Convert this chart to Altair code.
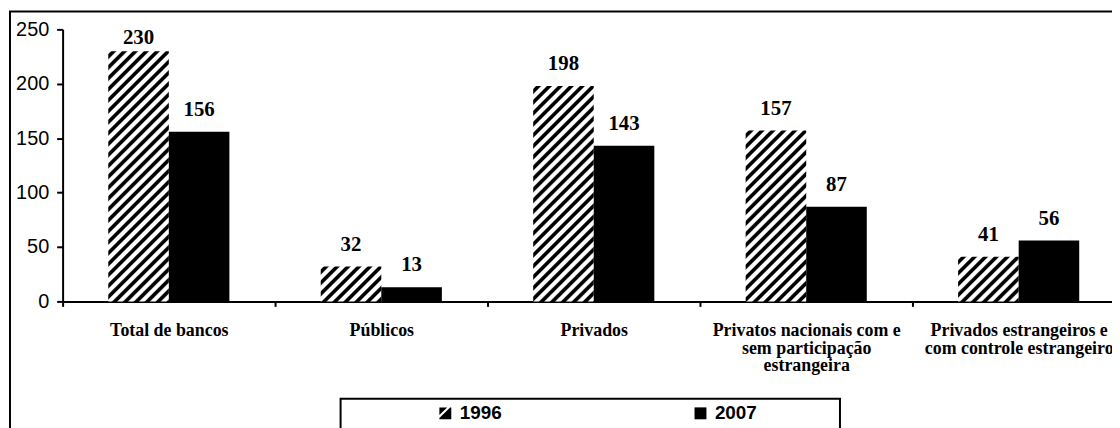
import math
import altair as alt
import pandas as pd

# ---- data ----
categories = [
    "Total de bancos",
    "Públicos",
    "Privados",
    "Privatos nacionais com e\nsem participação\nestrangeira",
    "Privados estrangeiros e\ncom controle estrangeiro",
]
years = ["1996", "2007"]
values_1996 = [230, 32, 198, 157, 41]
values_2007 = [156, 13, 143, 87, 56]
y_ticks = [0, 50, 100, 150, 200, 250]

# ---- layout ----
PLOT_H = 274
Y_MAX = 250
PX = PLOT_H / Y_MAX          # pixels per unit
STEP = 214                   # category band width
BAR_W = 61

rows = []
for c, a, b in zip(categories, values_1996, values_2007):
    rows.append({"cat": c, "year": "1996", "value": a})
    rows.append({"cat": c, "year": "2007", "value": b})
df = pd.DataFrame(rows)


def hatch(value, period=11.0):
    """Diagonal '/' stripes as a bounding-box linear gradient."""
    h = value * PX
    w = BAR_W
    L = w + h
    t = (w + h) / (w * w + h * h)
    stops = []
    n = int(math.ceil(L / period)) + 1
    pattern = [(0.0, "white"), (2.2, "white"), (3.8, "black"), (7.4, "black"), (9.0, "white")]
    last = -1.0
    for k in range(n):
        for off, col in pattern:
            s = (k * period + off) / L
            if s > 1:
                s = 1.0
            if s < last:
                s = last
            stops.append({"offset": s, "color": col})
            last = s
    return {"gradient": "linear", "x1": 0, "y1": 0, "x2": t * w, "y2": t * h, "stops": stops}


x_enc = alt.X(
    "cat:N",
    sort=categories,
    scale=alt.Scale(range=[0, STEP * len(categories)], paddingInner=0, paddingOuter=0),
    axis=alt.Axis(
        title=None,
        labelAngle=0,
        labelExpr="split(datum.label, '\\n')",
        labelFont="Liberation Serif",
        labelFontWeight="bold",
        labelFontSize=18,
        labelLineHeight=18,
        labelColor="black",
        labelPadding=15,
        labelLimit=0,
        labelOverlap=False,
        tickBand="extent",
        tickSize=5,
        tickWidth=2,
        tickColor="black",
        domainColor="black",
        domainWidth=2,
    ),
)
xoff_enc = alt.XOffset(
    "year:N",
    scale=alt.Scale(domain=years, paddingInner=0, paddingOuter=(STEP / BAR_W - 2) / 2),
)
y_enc = alt.Y(
    "value:Q",
    scale=alt.Scale(domain=[0, Y_MAX], nice=False),
    axis=alt.Axis(
        title=None,
        values=y_ticks,
        grid=False,
        labelFont="Liberation Sans",
        labelFontSize=20,
        labelColor="black",
        labelPadding=8,
        tickSize=6,
        tickWidth=2,
        tickColor="black",
        domainColor="black",
        domainWidth=2,
    ),
)

base = alt.Chart(df)

layers = []

# outer frame and legend box (decorations)
deco = pd.DataFrame({"k": [0]})
layers.append(
    alt.Chart(deco).mark_rect(fillOpacity=0, stroke="black", strokeWidth=2).encode(
        x=alt.value(-53), x2=alt.value(1300), y=alt.value(-18), y2=alt.value(600)
    )
)
layers.append(
    alt.Chart(deco).mark_rect(fillOpacity=0, stroke="black", strokeWidth=2).encode(
        x=alt.value(280), x2=alt.value(783), y=alt.value(372), y2=alt.value(600)
    )
)

for c, v in zip(categories, values_1996):
    layers.append(
        base.transform_filter((alt.datum.cat == c) & (alt.datum.year == "1996"))
        .mark_bar(fill=hatch(v), strokeWidth=0)
        .encode(x=x_enc, xOffset=xoff_enc, y=y_enc)
    )

layers.append(
    base.transform_filter(alt.datum.year == "2007")
    .mark_bar(color="black")
    .encode(x=x_enc, xOffset=xoff_enc, y=y_enc)
)

off_units = 16 / PX
cap_units = 15 / PX
layers.append(
    base.transform_calculate(ly=f"min(datum.value + {off_units}, {Y_MAX - cap_units})")
    .mark_text(font="Liberation Serif", fontWeight="bold", fontSize=21, color="black",
               baseline="alphabetic", align="center")
    .encode(x=x_enc, xOffset=xoff_enc, y=alt.Y("ly:Q"), text=alt.Text("value:Q"))
)

hatch_path = "M-1,-1L0.3,-1L-1,0.3Z M0.8,-1L1,-1L1,1L-1,1L-1,0.8Z"
layers.append(
    base.mark_point(filled=True, size=0, color="black", opacity=1)
    .encode(
        x=x_enc,
        xOffset=xoff_enc,
        y=alt.Y("value:Q"),
        shape=alt.Shape(
            "year:N",
            scale=alt.Scale(domain=years, range=[hatch_path, "square"]),
            legend=alt.Legend(
                title=None,
                orient="none",
                legendX=376,
                legendY=377,
                direction="horizontal",
                symbolSize=144,
                symbolFillColor="black",
                symbolStrokeWidth=0,
                symbolOpacity=1,
                labelFont="Liberation Sans",
                labelFontSize=19,
                labelFontWeight="bold",
                labelColor="black",
                labelOffset=5,
                columnPadding=190,
                padding=0,
            ),
        ),
    )
)

chart = (
    alt.layer(*layers)
    .properties(
        width=1057,
        height=PLOT_H,
        autosize="none",
        padding={"left": 55, "top": 20, "right": 0, "bottom": 126},
        background="white",
    )
    .configure_view(stroke=None)
)

chart.save("out.html", embed_options={"renderer": "svg", "actions": False})
